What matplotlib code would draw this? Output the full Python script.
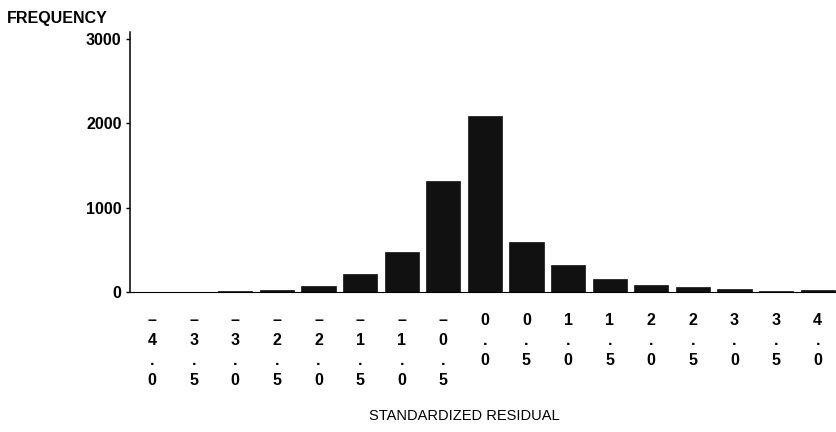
import matplotlib
matplotlib.use("Agg")
import matplotlib.pyplot as plt

# histogram of standardized residuals
mids = ["-4.0", "-3.5", "-3.0", "-2.5", "-2.0", "-1.5", "-1.0", "-0.5",
        "0.0", "0.5", "1.0", "1.5", "2.0", "2.5", "3.0", "3.5", "4.0"]
freq = [3, 4, 10, 25, 70, 215, 475, 1320,
        2085, 595, 315, 150, 80, 62, 30, 12, 28]
yticks = [0, 1000, 2000, 3000]

plt.rcParams['font.family'] = ['Liberation Sans', 'DejaVu Sans']

fig = plt.figure(figsize=(8.36, 4.32), dpi=100)
ax = fig.add_axes([130 / 836, 140 / 432, 706 / 836, 260 / 432])

pos = list(range(len(mids)))
ax.bar(pos, freq, width=0.82, color='#111111', edgecolor='#111111', lw=0.5)

# SAS style: each character of the midpoint stacked on its own line
def stack(s):
    return "\n".join("–" if c == "-" else c for c in s)

ax.set_xticks(pos)
ax.set_xticklabels([stack(m) for m in mids], fontsize=11.5, fontweight='bold',
                   linespacing=1.42, va='top')
ax.tick_params(axis='x', length=0, pad=15)

ax.set_yticks(yticks)
ax.set_yticklabels([str(t) for t in yticks], fontsize=11.5, fontweight='bold')
ax.tick_params(axis='y', length=3, width=1, pad=3)

ax.set_xlim(-0.53, 16.44)
ax.set_ylim(0, 3083)

for s in ['top', 'right']:
    ax.spines[s].set_visible(False)
ax.spines['left'].set_linewidth(1.1)
ax.spines['bottom'].set_linewidth(0.8)

fig.text(7 / 836, 1 - 18 / 432, "FREQUENCY", fontsize=11.5, fontweight='bold',
         va='center', ha='left')
fig.text(464 / 836, 1 - 416 / 432, "STANDARDIZED RESIDUAL", fontsize=10.5,
         va='center', ha='center')

fig.savefig("out.png", dpi=100)
